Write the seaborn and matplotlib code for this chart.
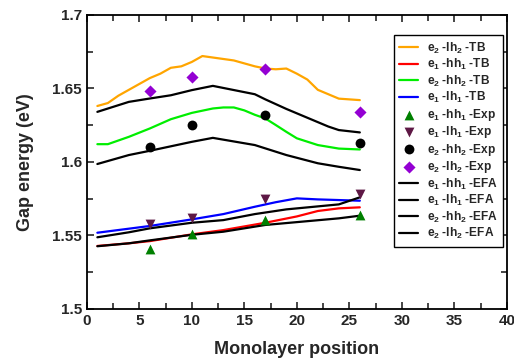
import matplotlib
matplotlib.use("Agg")
import matplotlib.pyplot as plt
import seaborn as sns
from matplotlib.ticker import MultipleLocator

# --- data ---
x_orange = [1, 2, 3, 4, 5, 6, 7, 8, 9, 10, 11, 12, 13, 14, 15, 16, 17, 18, 19, 20, 21, 22, 23, 24, 25, 26]
e2_lh2_tb = [1.638, 1.640, 1.645, 1.649, 1.653, 1.657, 1.660, 1.664, 1.665, 1.668, 1.672, 1.671, 1.670,
             1.669, 1.667, 1.665, 1.6635, 1.663, 1.6635, 1.660, 1.656, 1.649, 1.646, 1.643, 1.6425, 1.642]

x_red = [1, 4, 6, 10, 13, 17, 20, 22, 24, 26]
e1_hh1_tb = [1.5427, 1.5445, 1.546, 1.5506, 1.5535, 1.5585, 1.5628, 1.5665, 1.5683, 1.569]

x_green = [1, 2, 4, 6, 8, 10, 12, 13, 14, 15, 16, 17, 18, 19, 20, 22, 24, 26]
e2_hh2_tb = [1.612, 1.612, 1.617, 1.6227, 1.629, 1.6333, 1.6363, 1.637, 1.637, 1.635, 1.632, 1.6295,
             1.625, 1.6204, 1.616, 1.6114, 1.609, 1.6084]

x_blue = [1, 6, 10, 13, 16, 18, 20, 22, 26]
e1_lh1_tb = [1.5517, 1.5563, 1.5608, 1.5644, 1.5694, 1.5725, 1.5751, 1.5744, 1.5735]

x_exp = [6, 10, 17, 26]
e1_hh1_exp = [1.5404, 1.5508, 1.5603, 1.5635]
e1_lh1_exp = [1.5576, 1.5619, 1.5744, 1.5778]
e2_hh2_exp = [1.610, 1.625, 1.632, 1.613]
e2_lh2_exp = [1.648, 1.658, 1.663, 1.634]

x_efa1 = [1, 4, 6, 10, 13, 17, 24, 26]
e1_hh1_efa = [1.5425, 1.5445, 1.5465, 1.5503, 1.5524, 1.557, 1.5615, 1.5633]
x_efa2 = [1, 4, 6, 10, 13, 16, 19, 24, 26]
e1_lh1_efa = [1.5486, 1.552, 1.5547, 1.5585, 1.5603, 1.5644, 1.5676, 1.571, 1.5758]
x_efa3 = [1, 4, 6, 10, 12, 16, 19, 22, 24, 26]
e2_hh2_efa = [1.5985, 1.6046, 1.6075, 1.6136, 1.6163, 1.6114, 1.6046, 1.599, 1.5966, 1.5944]
x_efa4 = [1, 4, 6, 8, 10, 12, 16, 17, 19, 21, 23, 24, 26]
e2_lh2_efa = [1.634, 1.6408, 1.6431, 1.6453, 1.6488, 1.6517, 1.646, 1.6425, 1.636, 1.630, 1.624, 1.6216, 1.620]

sns.set_style("ticks")
plt.rcParams["font.family"] = ["Liberation Sans", "DejaVu Sans"]
plt.rcParams["font.weight"] = "bold"
plt.rcParams["mathtext.fontset"] = "custom"
plt.rcParams["mathtext.rm"] = "Liberation Sans:bold"
plt.rcParams["mathtext.bf"] = "Liberation Sans:bold"
plt.rcParams["mathtext.default"] = "bf"

fig = plt.figure(figsize=(5.14, 3.64), dpi=100)
ax = fig.add_axes([0.169, 0.152, 0.817, 0.807])

lw = 1.6
tb = [(x_orange, e2_lh2_tb, "#FFA500", "e$_2$ -lh$_2$ -TB"),
      (x_red, e1_hh1_tb, "#FF0000", "e$_1$ -hh$_1$ -TB"),
      (x_green, e2_hh2_tb, "#00EE00", "e$_2$ -hh$_2$ -TB"),
      (x_blue, e1_lh1_tb, "#0000FF", "e$_1$ -lh$_1$ -TB")]
efa = [(x_efa1, e1_hh1_efa, "e$_1$ -hh$_1$ -EFA"),
       (x_efa2, e1_lh1_efa, "e$_1$ -lh$_1$ -EFA"),
       (x_efa3, e2_hh2_efa, "e$_2$ -hh$_2$ -EFA"),
       (x_efa4, e2_lh2_efa, "e$_2$ -lh$_2$ -EFA")]
exp = [(e1_hh1_exp, "#008000", "^", "e$_1$ -hh$_1$ -Exp"),
       (e1_lh1_exp, "#5E1845", "v", "e$_1$ -lh$_1$ -Exp"),
       (e2_hh2_exp, "black", "o", "e$_2$ -hh$_2$ -Exp"),
       (e2_lh2_exp, "#9400D3", "D", "e$_2$ -lh$_2$ -Exp")]

for xs, ys, c, lab in tb:
    sns.lineplot(x=xs, y=ys, color=c, lw=lw, label=lab, sort=False, estimator=None, ax=ax, zorder=2)
for ys, c, m, lab in exp:
    sns.scatterplot(x=x_exp, y=ys, color=c, marker=m, s=50 if m != "D" else 38,
                    edgecolor=c, linewidth=0, label=lab, ax=ax, zorder=4)
for xs, ys, lab in efa:
    sns.lineplot(x=xs, y=ys, color="black", lw=lw, label=lab, sort=False, estimator=None, ax=ax, zorder=3)

ax.set_xlim(0, 40)
ax.set_ylim(1.5, 1.7)
ax.xaxis.set_major_locator(MultipleLocator(5))
ax.xaxis.set_minor_locator(MultipleLocator(2.5))
ax.yaxis.set_major_locator(MultipleLocator(0.05))
ax.yaxis.set_minor_locator(MultipleLocator(0.025))
ax.set_yticks([1.5, 1.55, 1.6, 1.65, 1.7])
ax.set_yticklabels(["1.5", "1.55", "1.6", "1.65", "1.7"])
ax.tick_params(which="both", direction="in", top=True, right=True, width=1.2, labelsize=11)
ax.tick_params(which="major", length=5)
ax.tick_params(which="minor", length=4)
for s in ax.spines.values():
    s.set_linewidth(1.3)
    s.set_color("black")

ax.set_xlabel("Monolayer position", fontsize=13, fontweight="bold", labelpad=10)
ax.set_ylabel("Gap energy (eV)", fontsize=13, fontweight="bold", labelpad=13)

leg = ax.legend(loc="upper right", bbox_to_anchor=(0.992, 0.931), fontsize=8.6, frameon=True,
                fancybox=False, edgecolor="black", framealpha=1, handlelength=1.6,
                labelspacing=0.12, borderpad=0.45, handletextpad=0.7, borderaxespad=0)
leg.get_frame().set_linewidth(1.0)

fig.savefig("out.png", dpi=100)
